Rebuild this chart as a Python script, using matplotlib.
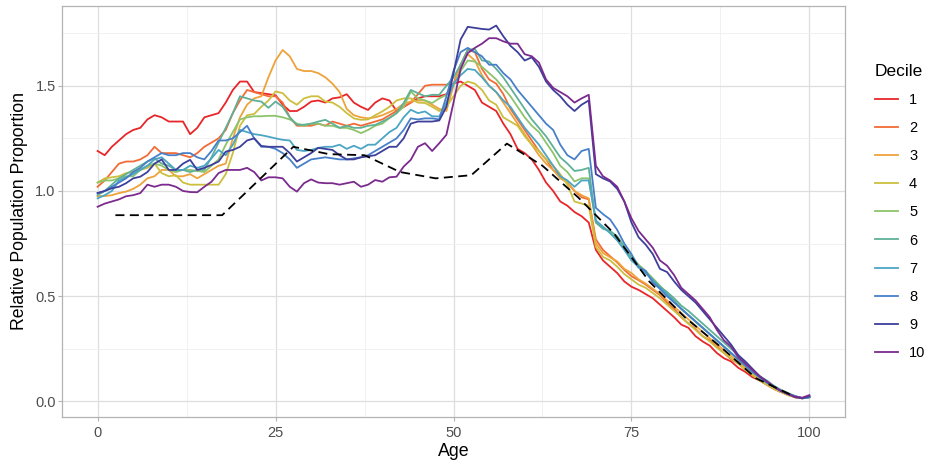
import matplotlib
matplotlib.use("Agg")
import matplotlib.pyplot as plt
from matplotlib.ticker import MultipleLocator, FuncFormatter

plt.rcParams['font.family'] = ['Liberation Sans', 'DejaVu Sans']

ages = list(range(0, 101))

decile_1 = [
    1.19, 1.17, 1.21, 1.24, 1.27, 1.29, 1.30, 1.34, 1.36, 1.35,
    1.33, 1.33, 1.33, 1.27, 1.30, 1.35, 1.36, 1.37, 1.42, 1.48,
    1.52, 1.52, 1.47, 1.465, 1.46, 1.455, 1.41, 1.38, 1.38, 1.40,
    1.425, 1.43, 1.42, 1.44, 1.445, 1.46, 1.42, 1.40, 1.385, 1.42,
    1.44, 1.43, 1.38, 1.40, 1.42, 1.44, 1.45, 1.45, 1.45, 1.46,
    1.51, 1.52, 1.50, 1.48, 1.42, 1.40, 1.38, 1.32, 1.27, 1.20,
    1.18, 1.15, 1.10, 1.04, 1.00, 0.95, 0.93, 0.90, 0.88, 0.85,
    0.72, 0.67, 0.64, 0.61, 0.57, 0.545, 0.53, 0.51, 0.49, 0.46,
    0.43, 0.40, 0.365, 0.35, 0.31, 0.285, 0.265, 0.23, 0.205, 0.19,
    0.16, 0.14, 0.115, 0.10, 0.08, 0.06, 0.045, 0.035, 0.02, 0.015, 0.02,
]
decile_2 = [
    1.02, 1.05, 1.09, 1.13, 1.14, 1.14, 1.15, 1.17, 1.21, 1.18,
    1.18, 1.18, 1.17, 1.16, 1.18, 1.21, 1.23, 1.25, 1.29, 1.37,
    1.43, 1.48, 1.47, 1.46, 1.45, 1.45, 1.42, 1.35, 1.31, 1.31,
    1.31, 1.32, 1.31, 1.33, 1.32, 1.31, 1.32, 1.31, 1.32, 1.33,
    1.34, 1.36, 1.38, 1.40, 1.42, 1.46, 1.50, 1.505, 1.505, 1.505,
    1.51, 1.60, 1.67, 1.66, 1.58, 1.53, 1.51, 1.46, 1.39, 1.34,
    1.29, 1.24, 1.19, 1.15, 1.10, 1.07, 1.04, 1.00, 0.97, 0.96,
    0.77, 0.72, 0.69, 0.66, 0.625, 0.595, 0.576, 0.555, 0.53, 0.505,
    0.47, 0.44, 0.40, 0.37, 0.345, 0.31, 0.29, 0.26, 0.23, 0.20,
    0.18, 0.15, 0.125, 0.10, 0.08, 0.06, 0.045, 0.03, 0.02, 0.015, 0.02,
]
decile_3 = [
    0.975, 0.976, 0.98, 0.99, 0.997, 1.01, 1.03, 1.06, 1.07, 1.10,
    1.10, 1.07, 1.07, 1.08, 1.06, 1.08, 1.10, 1.12, 1.13, 1.25,
    1.35, 1.41, 1.44, 1.45, 1.54, 1.62, 1.67, 1.64, 1.58, 1.57,
    1.57, 1.56, 1.54, 1.51, 1.47, 1.39, 1.36, 1.35, 1.345, 1.35,
    1.36, 1.375, 1.39, 1.415, 1.425, 1.43, 1.43, 1.41, 1.39, 1.38,
    1.50, 1.60, 1.65, 1.62, 1.55, 1.50, 1.47, 1.42, 1.37, 1.32,
    1.27, 1.22, 1.17, 1.13, 1.10, 1.06, 1.04, 1.00, 0.98, 0.965,
    0.752, 0.705, 0.685, 0.665, 0.63, 0.61, 0.58, 0.56, 0.535, 0.51,
    0.48, 0.45, 0.42, 0.39, 0.36, 0.33, 0.30, 0.27, 0.245, 0.215,
    0.19, 0.16, 0.13, 0.11, 0.085, 0.065, 0.045, 0.035, 0.02, 0.015, 0.02,
]
decile_4 = [
    1.04, 1.06, 1.065, 1.07, 1.085, 1.09, 1.10, 1.11, 1.13, 1.085,
    1.07, 1.075, 1.04, 1.03, 1.03, 1.03, 1.03, 1.03, 1.08, 1.18,
    1.31, 1.36, 1.366, 1.40, 1.43, 1.473, 1.465, 1.43, 1.41, 1.44,
    1.45, 1.45, 1.425, 1.42, 1.40, 1.37, 1.345, 1.338, 1.34, 1.36,
    1.378, 1.40, 1.43, 1.44, 1.44, 1.42, 1.418, 1.40, 1.38, 1.40,
    1.45, 1.50, 1.52, 1.51, 1.48, 1.43, 1.41, 1.35, 1.33, 1.31,
    1.26, 1.22, 1.19, 1.15, 1.12, 1.08, 1.03, 0.95, 0.94, 0.93,
    0.735, 0.687, 0.67, 0.64, 0.605, 0.58, 0.555, 0.54, 0.515, 0.49,
    0.46, 0.43, 0.40, 0.37, 0.34, 0.31, 0.285, 0.255, 0.23, 0.205,
    0.18, 0.15, 0.125, 0.10, 0.08, 0.06, 0.045, 0.03, 0.02, 0.015, 0.02,
]
decile_5 = [
    1.04, 1.05, 1.05, 1.06, 1.07, 1.07, 1.10, 1.12, 1.13, 1.12,
    1.10, 1.09, 1.10, 1.10, 1.095, 1.09, 1.12, 1.15, 1.22, 1.28,
    1.34, 1.35, 1.355, 1.355, 1.357, 1.357, 1.35, 1.34, 1.32, 1.31,
    1.32, 1.32, 1.31, 1.31, 1.30, 1.30, 1.29, 1.275, 1.29, 1.31,
    1.32, 1.347, 1.37, 1.40, 1.473, 1.44, 1.43, 1.418, 1.44, 1.457,
    1.50, 1.57, 1.62, 1.615, 1.59, 1.56, 1.53, 1.49, 1.45, 1.40,
    1.35, 1.31, 1.28, 1.23, 1.18, 1.12, 1.09, 1.045, 1.06, 1.06,
    0.85, 0.83, 0.80, 0.77, 0.73, 0.69, 0.65, 0.62, 0.585, 0.55,
    0.515, 0.48, 0.44, 0.41, 0.38, 0.35, 0.32, 0.29, 0.26, 0.23,
    0.20, 0.17, 0.14, 0.115, 0.09, 0.07, 0.05, 0.035, 0.025, 0.015, 0.02,
]
decile_6 = [
    0.98, 1.00, 1.03, 1.06, 1.08, 1.10, 1.12, 1.14, 1.155, 1.13,
    1.12, 1.10, 1.10, 1.09, 1.10, 1.10, 1.16, 1.23, 1.30, 1.37,
    1.45, 1.44, 1.43, 1.425, 1.395, 1.425, 1.40, 1.35, 1.315, 1.315,
    1.32, 1.33, 1.338, 1.32, 1.30, 1.31, 1.30, 1.30, 1.31, 1.314,
    1.33, 1.347, 1.37, 1.418, 1.48, 1.465, 1.45, 1.457, 1.457, 1.50,
    1.54, 1.60, 1.67, 1.675, 1.62, 1.615, 1.58, 1.54, 1.49, 1.44,
    1.39, 1.34, 1.30, 1.26, 1.21, 1.16, 1.13, 1.095, 1.10, 1.11,
    0.85, 0.82, 0.81, 0.785, 0.735, 0.68, 0.635, 0.61, 0.58, 0.545,
    0.52, 0.49, 0.455, 0.43, 0.40, 0.37, 0.34, 0.31, 0.28, 0.25,
    0.22, 0.18, 0.15, 0.12, 0.10, 0.075, 0.055, 0.04, 0.025, 0.015, 0.02,
]
decile_7 = [
    0.965, 0.98, 1.00, 1.05, 1.065, 1.08, 1.10, 1.12, 1.15, 1.16,
    1.13, 1.10, 1.10, 1.12, 1.11, 1.12, 1.155, 1.195, 1.17, 1.22,
    1.29, 1.28, 1.27, 1.265, 1.258, 1.25, 1.243, 1.24, 1.195, 1.19,
    1.195, 1.205, 1.21, 1.21, 1.22, 1.20, 1.215, 1.20, 1.22, 1.22,
    1.25, 1.28, 1.30, 1.35, 1.386, 1.37, 1.378, 1.355, 1.354, 1.42,
    1.51, 1.55, 1.58, 1.575, 1.54, 1.50, 1.47, 1.43, 1.40, 1.35,
    1.30, 1.26, 1.22, 1.17, 1.12, 1.07, 1.05, 1.02, 1.05, 1.05,
    0.86, 0.83, 0.80, 0.765, 0.72, 0.67, 0.64, 0.61, 0.575, 0.54,
    0.51, 0.475, 0.44, 0.41, 0.38, 0.35, 0.32, 0.29, 0.26, 0.23,
    0.20, 0.17, 0.14, 0.115, 0.09, 0.07, 0.05, 0.035, 0.025, 0.015, 0.02,
]
decile_8 = [
    0.99, 1.00, 1.02, 1.04, 1.06, 1.09, 1.11, 1.14, 1.16, 1.18,
    1.17, 1.17, 1.18, 1.18, 1.16, 1.15, 1.19, 1.24, 1.24, 1.25,
    1.28, 1.31, 1.25, 1.21, 1.21, 1.20, 1.18, 1.15, 1.11, 1.13,
    1.15, 1.155, 1.16, 1.155, 1.15, 1.15, 1.155, 1.16, 1.17, 1.19,
    1.21, 1.23, 1.25, 1.29, 1.345, 1.34, 1.345, 1.345, 1.34, 1.45,
    1.57, 1.66, 1.68, 1.66, 1.64, 1.60, 1.60, 1.56, 1.53, 1.48,
    1.44, 1.40, 1.36, 1.32, 1.29, 1.22, 1.17, 1.15, 1.19, 1.20,
    0.92, 0.89, 0.865, 0.815, 0.75, 0.70, 0.64, 0.62, 0.565, 0.535,
    0.50, 0.47, 0.44, 0.41, 0.38, 0.35, 0.32, 0.29, 0.26, 0.23,
    0.20, 0.17, 0.14, 0.115, 0.09, 0.07, 0.05, 0.035, 0.025, 0.015, 0.02,
]
decile_9 = [
    0.99, 1.00, 1.013, 1.02, 1.037, 1.06, 1.068, 1.09, 1.13, 1.15,
    1.10, 1.10, 1.13, 1.148, 1.10, 1.11, 1.124, 1.14, 1.187, 1.195,
    1.21, 1.24, 1.25, 1.214, 1.21, 1.21, 1.21, 1.18, 1.14, 1.16,
    1.18, 1.205, 1.20, 1.195, 1.17, 1.15, 1.15, 1.16, 1.165, 1.17,
    1.19, 1.21, 1.21, 1.25, 1.32, 1.33, 1.33, 1.33, 1.335, 1.40,
    1.56, 1.72, 1.78, 1.775, 1.77, 1.767, 1.786, 1.735, 1.69, 1.66,
    1.62, 1.635, 1.59, 1.52, 1.48, 1.45, 1.41, 1.38, 1.41, 1.43,
    1.08, 1.06, 1.045, 1.01, 0.95, 0.85, 0.78, 0.745, 0.70, 0.63,
    0.615, 0.57, 0.53, 0.50, 0.47, 0.43, 0.39, 0.35, 0.31, 0.27,
    0.22, 0.19, 0.155, 0.12, 0.095, 0.07, 0.05, 0.035, 0.02, 0.015, 0.025,
]
decile_10 = [
    0.925, 0.94, 0.95, 0.96, 0.975, 0.98, 0.99, 1.03, 1.02, 1.03,
    1.03, 1.02, 1.00, 0.995, 0.994, 1.02, 1.044, 1.085, 1.10, 1.10,
    1.10, 1.11, 1.09, 1.05, 1.065, 1.065, 1.06, 1.02, 0.997, 1.037,
    1.055, 1.04, 1.037, 1.037, 1.03, 1.037, 1.044, 1.02, 1.03, 1.052,
    1.044, 1.065, 1.068, 1.116, 1.148, 1.21, 1.227, 1.19, 1.227, 1.267,
    1.42, 1.58, 1.655, 1.68, 1.70, 1.726, 1.726, 1.711, 1.70, 1.70,
    1.65, 1.64, 1.61, 1.53, 1.49, 1.47, 1.45, 1.42, 1.44, 1.457,
    1.12, 1.07, 1.05, 1.02, 0.95, 0.87, 0.81, 0.77, 0.73, 0.67,
    0.645, 0.60, 0.54, 0.51, 0.48, 0.44, 0.40, 0.34, 0.29, 0.26,
    0.21, 0.18, 0.15, 0.12, 0.095, 0.07, 0.05, 0.035, 0.022, 0.018, 0.03,
]

# Reference curve on 5-year age-group midpoints
ref_ages = [2.5, 7.5, 12.5, 17.5, 22.5, 27.5, 32.5, 37.5, 42.5, 47.5,
            52.5, 57.5, 62.5, 67.5, 72.5, 77.5, 82.5, 87.5, 92.5, 97.5]
ref_values = [0.885, 0.885, 0.885, 0.885, 1.047, 1.21, 1.175, 1.17, 1.09, 1.06,
              1.075, 1.225, 1.12, 0.97, 0.80, 0.57, 0.40, 0.26, 0.11, 0.03]

deciles = [decile_1, decile_2, decile_3, decile_4, decile_5,
           decile_6, decile_7, decile_8, decile_9, decile_10]
decile_labels = ["1", "2", "3", "4", "5", "6", "7", "8", "9", "10"]
colors = ["#E8262A", "#F26B36", "#EEA23A", "#CCBF3E", "#8DC46B",
          "#5FB097", "#4BA5C4", "#4780C9", "#3D3F9B", "#7B2A8D"]

fig = plt.figure(figsize=(9.27, 4.63), dpi=100)
ax = fig.add_axes([62 / 927, 46 / 463, (845 - 62) / 927, (417 - 6) / 463])

for vals, lab, col in zip(deciles, decile_labels, colors):
    ax.plot(ages, vals, color=col, lw=1.3, label=lab, zorder=3)

ax.plot(ref_ages, ref_values, color="black", lw=1.3, ls=(0, (5, 3)), zorder=4)

ax.set_xlim(-5, 105)
ax.set_ylim(-0.074, 1.879)
ax.xaxis.set_major_locator(MultipleLocator(25))
ax.xaxis.set_minor_locator(MultipleLocator(12.5))
ax.yaxis.set_major_locator(MultipleLocator(0.5))
ax.yaxis.set_minor_locator(MultipleLocator(0.25))
ax.yaxis.set_major_formatter(FuncFormatter(lambda v, p: f"{v:.1f}"))

ax.grid(which="major", color="#DEDEDE", lw=0.9)
ax.grid(which="minor", color="#EFEFEF", lw=0.6)
ax.set_axisbelow(True)
for s in ax.spines.values():
    s.set_color("#B3B3B3")
    s.set_linewidth(0.9)
ax.tick_params(which="major", length=3, color="#B3B3B3", labelcolor="#4D4D4D",
               labelsize=10.5)
ax.tick_params(axis="x", which="major", pad=3.5)
ax.tick_params(axis="y", which="major", pad=1.5)
ax.tick_params(which="minor", length=0)

ax.set_xlabel("Age", fontsize=12.8, color="black", labelpad=2)
ax.set_ylabel("Relative Population Proportion", fontsize=12.7, color="black", labelpad=5)

leg = ax.legend(title="Decile", loc="upper left", bbox_to_anchor=(1.031, 0.873),
                frameon=False, fontsize=10.5, title_fontsize=12.5,
                handlelength=1.55, handletextpad=0.78, labelspacing=0.966,
                alignment="left", borderaxespad=0.0)

fig.savefig("out.png", dpi=100, facecolor="white")
